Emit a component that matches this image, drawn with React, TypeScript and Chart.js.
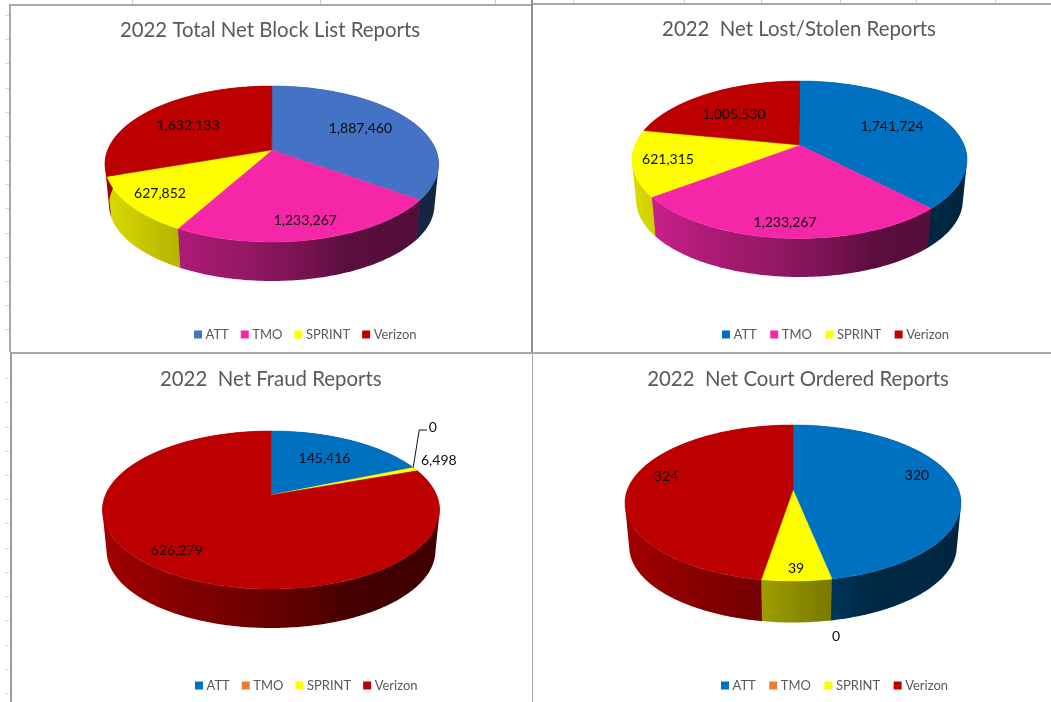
import React, { useEffect, useRef } from "react";
import { Chart, registerables } from "chart.js";

Chart.register(...registerables);

const carriers = ["ATT", "TMO", "SPRINT", "Verizon"];

const blockListValues = [1887460, 1233267, 627852, 1632133];
const lostStolenValues = [1741724, 1233267, 621315, 1005530];
const fraudValues = [145416, 0, 6498, 626279];
const courtValues = [320, 0, 39, 324];

const blockListColors = ["#4472C4", "#F527A8", "#FFFF00", "#BC0000"];
const lostStolenColors = ["#0070C0", "#F527A8", "#FFFF00", "#BC0000"];
const fraudColors = ["#0070C0", "#ED7D31", "#FFFF00", "#BC0000"];
const courtColors = ["#0070C0", "#ED7D31", "#FFFF00", "#BC0000"];

const FONT = "Lato, Carlito, 'Open Sans', sans-serif";
const WALL_SCALE = 0.975;
const LIGHT_STOPS = [
  [0, 0.86],
  [0.23, 0.7],
  [0.4, 0.62],
  [0.62, 0.47],
  [0.72, 0.37],
  [1, 0.33],
];

const panels: any[] = [
  {
    title: "2022 Total Net Block List Reports",
    values: blockListValues,
    colors: blockListColors,
    box: { x: 0, y: 0, w: 531, h: 352 },
    titleAt: [270, 30],
    legendAt: [194, 334],
    legendGap: 15,
    disc: { cx: 271.8, apex: 150, top: 86, bottom: 242, left: 104.8, right: 438.5, wall: 281 },
    labels: [[360.4, 128], [305.3, 220], [160, 193], [188, 125]],
  },
  {
    title: "2022  Net Lost/Stolen Reports",
    values: lostStolenValues,
    colors: lostStolenColors,
    box: { x: 531, y: 0, w: 520, h: 352 },
    titleAt: [799, 29],
    legendAt: [722, 334],
    legendGap: 16.5,
    disc: { cx: 799.5, apex: 145, top: 81, bottom: 238.5, left: 632, right: 967, wall: 277 },
    labels: [[892, 126], [785, 222], [668, 159], [734, 114]],
  },
  {
    title: "2022  Net Fraud Reports",
    values: fraudValues,
    colors: fraudColors,
    box: { x: 0, y: 352, w: 531, h: 350 },
    titleAt: [270.8, 379],
    legendAt: [195, 685],
    legendGap: 15,
    disc: { cx: 271, apex: 495, top: 431, bottom: 589, left: 102.4, right: 439.5, wall: 628 },
    labels: [[324.5, 458], [432.7, 427], [438.8, 460], [176.8, 550]],
    leader: [[419.2, 430], [427, 430]],
  },
  {
    title: "2022  Net Court Ordered Reports",
    values: courtValues,
    colors: courtColors,
    box: { x: 531, y: 352, w: 520, h: 350 },
    titleAt: [798, 379],
    legendAt: [721, 685],
    legendGap: 16.5,
    disc: { cx: 793, apex: 490, top: 425, bottom: 581, left: 625, right: 961, wall: 622.5 },
    labels: [[917, 475], [836, 636], [796, 568], [666, 476]],
  },
];

function makeProjector(d: any) {
  const lower = d.bottom - d.apex;
  const upper = d.apex - d.top;
  const c = -(lower - upper) / (lower + upper);
  const a = lower * (1 + c);
  const half = (d.right - d.left) / 2;
  const R = half * Math.sqrt(1 - c * c);
  const cy = d.apex - (a * c) / (1 - c * c);
  const dy = d.wall - cy - WALL_SCALE * (d.bottom - cy);
  const topPoint = (angle: number, r = 1) => {
    const u = Math.cos(angle) * r;
    const v = Math.sin(angle) * r;
    const w = 1 + c * v;
    return [d.cx + (R * u) / w, d.apex + (a * v) / w];
  };
  const wallPoint = (angle: number) => {
    const [x, y] = topPoint(angle);
    return [d.cx + WALL_SCALE * (x - d.cx), cy + dy + WALL_SCALE * (y - cy)];
  };
  return { topPoint, wallPoint };
}

function shade(hex: string, f: number) {
  const n = parseInt(hex.slice(1), 16);
  const r = Math.round(((n >> 16) & 255) * f);
  const g = Math.round(((n >> 8) & 255) * f);
  const b = Math.round((n & 255) * f);
  return `rgb(${r},${g},${b})`;
}

function arcAngles(a0: number, a1: number) {
  const steps = Math.max(2, Math.ceil((a1 - a0) / (Math.PI / 180)));
  const out: number[] = [];
  for (let i = 0; i <= steps; i++) out.push(a0 + ((a1 - a0) * i) / steps);
  return out;
}

function tracePolygon(ctx: CanvasRenderingContext2D, pts: number[][]) {
  pts.forEach(([x, y], i) => (i ? ctx.lineTo(x, y) : ctx.moveTo(x, y)));
  ctx.closePath();
}

function signedArea(pts: number[][]) {
  let s = 0;
  pts.forEach(([x, y], i) => {
    const [nx, ny] = pts[(i + 1) % pts.length];
    s += x * ny - nx * y;
  });
  return s;
}

const pie3d = {
  id: "pie3d",
  afterLayout(chart: any, _args: any, opts: any) {
    const { panel } = opts;
    const t = chart.titleBlock;
    if (t) {
      t.left = panel.titleAt[0] - panel.box.x - 200;
      t.right = panel.titleAt[0] - panel.box.x + 200;
      t.top = panel.titleAt[1] - panel.box.y - t.height / 2;
      t.bottom = t.top + t.height;
    }
    const l = chart.legend;
    if (l) {
      const pad = l.options.labels.padding;
      l.left = panel.legendAt[0] - panel.box.x + 3 - pad;
      l.right = l.left + 440;
      l.top = panel.legendAt[1] - panel.box.y - pad - 6;
      l.bottom = l.top + l.height;
    }
  },
  beforeDatasetsDraw(chart: any, _args: any, opts: any) {
    const { panel } = opts;
    const ctx: CanvasRenderingContext2D = chart.ctx;
    const d = panel.disc;
    const proj = makeProjector(d);
    const arcs = chart.getDatasetMeta(0).data;
    const colors = panel.colors;
    const drawn = arcs
      .map((arc: any, i: number) => ({ a0: arc.startAngle, a1: arc.endAngle, color: colors[i], i }))
      .filter((s: any) => s.a1 - s.a0 > 1e-6);

    ctx.save();
    ctx.translate(-panel.box.x, -panel.box.y);
    ctx.lineJoin = "round";

    drawn.forEach((s: any) => {
      const angles = arcAngles(s.a0, s.a1 + 0.006);
      const g = ctx.createLinearGradient(d.left, 0, d.right, 0);
      LIGHT_STOPS.forEach(([t, f]) => g.addColorStop(t, shade(s.color, f)));
      ctx.fillStyle = g;
      ctx.beginPath();
      for (let k = 0; k < angles.length - 1; k++) {
        const a = angles[k];
        const b = angles[k + 1];
        const quad = [proj.topPoint(a), proj.topPoint(b), proj.wallPoint(b), proj.wallPoint(a)];
        tracePolygon(ctx, signedArea(quad) < 0 ? quad.reverse() : quad);
      }
      ctx.fill();
    });

    drawn.forEach((s: any) => {
      const pts = [[d.cx, d.apex], ...arcAngles(s.a0, s.a1).map((a) => proj.topPoint(a))];
      ctx.fillStyle = s.color;
      ctx.strokeStyle = s.color;
      ctx.lineWidth = 0.5;
      ctx.beginPath();
      tracePolygon(ctx, pts);
      ctx.fill();
      ctx.stroke();
    });

    if (panel.leader) {
      const [sx, sy] = proj.topPoint(arcs[1].endAngle);
      ctx.strokeStyle = "#111";
      ctx.lineWidth = 1;
      ctx.beginPath();
      ctx.moveTo(sx, sy);
      panel.leader.forEach(([x, y]: number[]) => ctx.lineTo(x, y));
      ctx.stroke();
    }

    ctx.fillStyle = "#0c0c0c";
    ctx.font = `14px ${FONT}`;
    ctx.textAlign = "center";
    ctx.textBaseline = "middle";
    panel.values.forEach((v: number, i: number) => {
      const at = panel.labels[i];
      if (at) ctx.fillText(v.toLocaleString("en-US"), at[0], at[1]);
    });
    ctx.restore();
    return false;
  },
};

function Panel({ panel }: { panel: any }) {
  const ref = useRef<HTMLCanvasElement>(null);
  useEffect(() => {
    const chart = new Chart(ref.current as HTMLCanvasElement, {
      type: "pie",
      data: {
        labels: carriers,
        datasets: [{ data: panel.values, backgroundColor: panel.colors, borderWidth: 0 }],
      },
      plugins: [pie3d],
      options: {
        responsive: false,
        animation: false,
        events: [],
        layout: { padding: 0 },
        plugins: {
          pie3d: { panel },
          tooltip: { enabled: false },
          title: {
            display: true,
            text: panel.title,
            color: "#595959",
            padding: 0,
            font: { family: FONT, size: 20.4, weight: "normal" },
          },
          legend: {
            display: true,
            position: "bottom",
            align: "start",
            labels: {
              usePointStyle: true,
              pointStyle: "rect",
              boxWidth: 2,
              boxHeight: 8,
              padding: panel.legendGap,
              color: "#595959",
              font: { family: FONT, size: 13 },
            },
          },
        },
      } as any,
    });
    return () => chart.destroy();
  }, [panel]);
  const { x, y, w, h } = panel.box;
  return <canvas ref={ref} width={w} height={h} style={{ position: "absolute", left: x, top: y, width: w, height: h, filter: "blur(0.35px)" }} />;
}

const rowTicks = [15, 39, 63, 88, 112, 136, 160, 184, 208, 233, 257, 281, 305, 329, 378, 402, 427, 451, 475, 499, 523, 548, 572, 596, 620, 645, 669, 693];
const columnTicks = [132, 319.5, 494.6, 573, 684, 761, 840, 916, 995];

const line = (left: number, top: number, width: number, height: number, background: string) => (
  <div key={`${left}-${top}-${width}`} style={{ position: "absolute", left, top, width, height, background }} />
);

export default function App() {
  return (
    <div style={{ position: "absolute", left: 0, top: 0, width: 1051, height: 702, background: "#fff", overflow: "hidden" }}>
      {rowTicks.map((y) => line(5, y, 4, 1, "#d4d4d4"))}
      {columnTicks.map((x) => line(x, 0, 1, 4, "#cfcfcf"))}
      {line(9, 4, 522, 1.5, "#a9a9a9")}
      {line(533, 3, 518, 1.5, "#a9a9a9")}
      {line(9, 4, 1.5, 348, "#a9a9a9")}
      {line(10, 352, 1041, 1.5, "#a9a9a9")}
      {line(10, 352, 1.5, 350, "#9c9c9c")}
      {line(531, 0, 2, 352, "#8f8f8f")}
      {line(531.5, 352, 1.5, 350, "#a9a9a9")}
      {panels.map((p) => (
        <Panel key={p.title} panel={p} />
      ))}
    </div>
  );
}
